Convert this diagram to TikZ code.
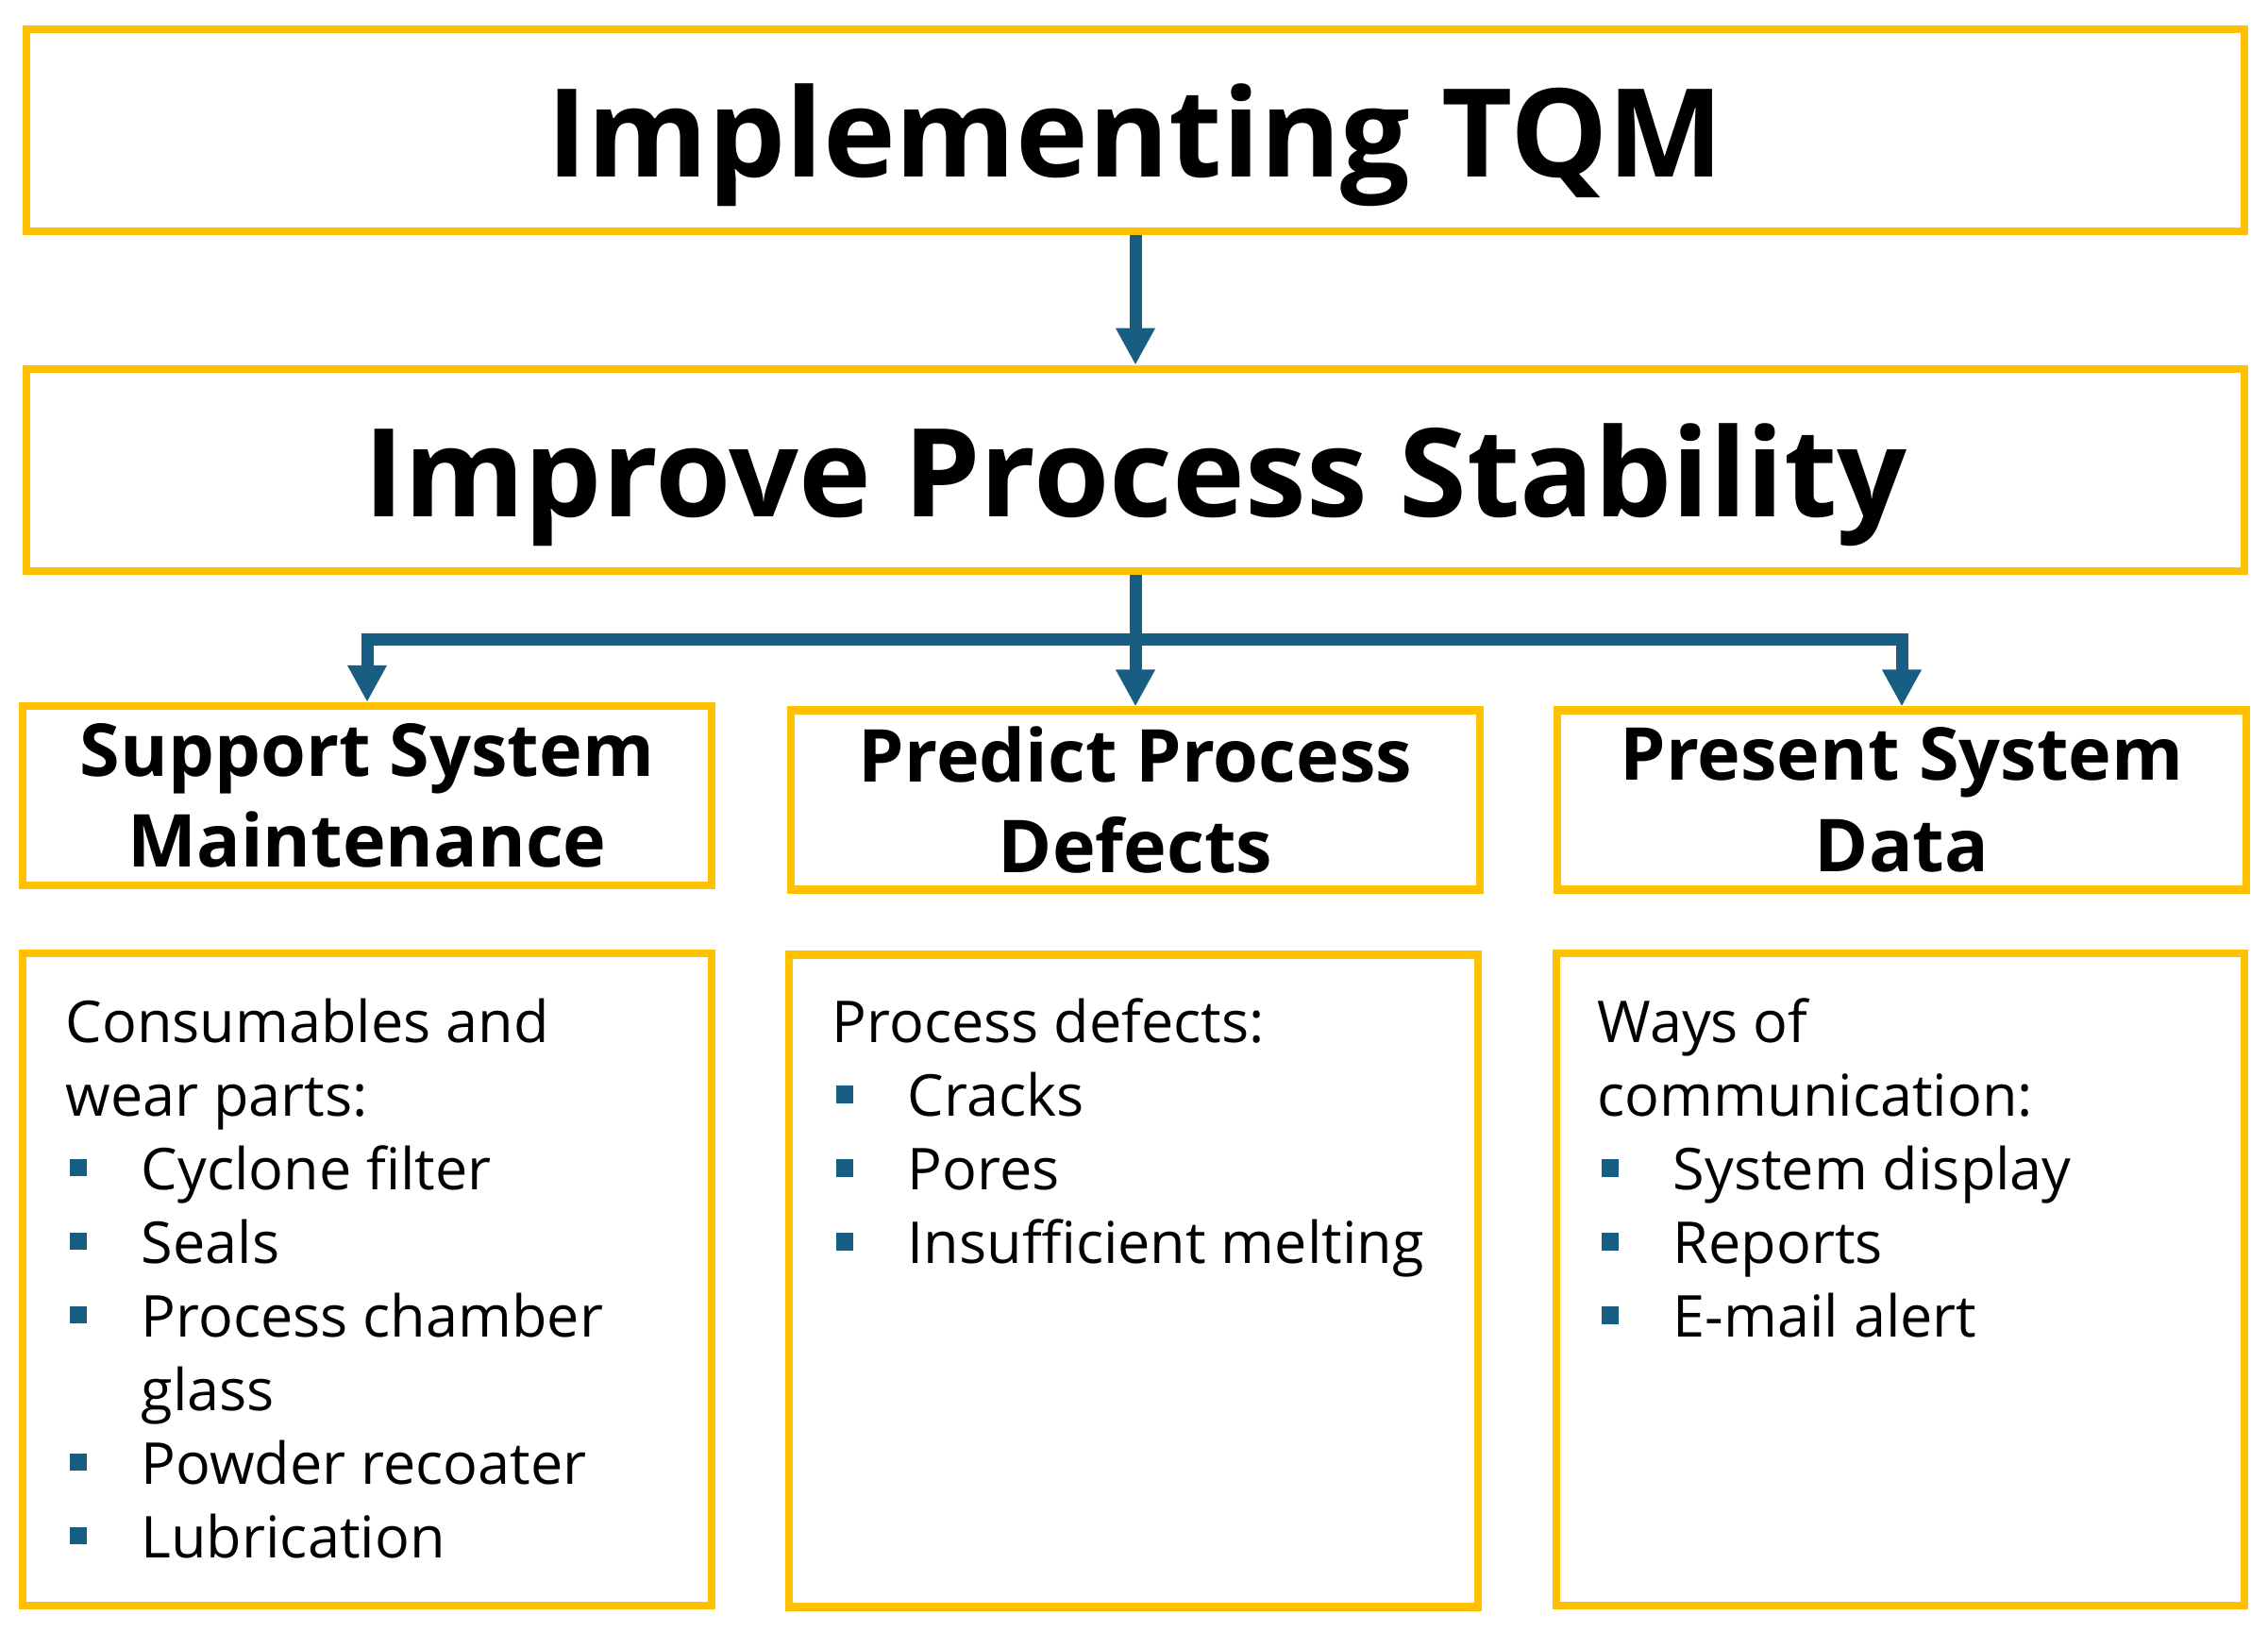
\documentclass[tikz,border=0pt]{standalone}
\usepackage{fontspec}
\setmainfont{Open Sans}
\usetikzlibrary{arrows.meta}
\definecolor{tqmgold}{RGB}{255,192,0}
\definecolor{tqmblue}{RGB}{24,94,130}
\newcommand\bul{\makebox[0.8cm][l]{\hspace{0.04cm}\textcolor{tqmblue}{\rule[1.4mm]{1.85mm}{1.85mm}}}}

\begin{document}
\begin{tikzpicture}[
    box/.style={draw=tqmgold, line width=2.3pt, inner sep=0pt, align=center},
    title/.style={box, minimum width=23.5cm, minimum height=2.146cm, text depth=0pt, font=\bfseries\fontsize{37}{44}\selectfont},
    head/.style={box, minimum width=7.295cm, minimum height=1.9cm, font=\bfseries\fontsize{22}{27.5}\selectfont},
    body/.style={box, minimum width=7.295cm, minimum height=6.91cm},
    items/.style={inner sep=0pt, anchor=north west, align=left, font=\fontsize{17.4}{22.2}\selectfont},
    link/.style={draw=tqmblue, line width=3.7pt},
    tip/.style={-{Triangle[width=3.9mm,length=3.9mm]}}
  ]
  \useasboundingbox (0,0) rectangle (24.03,-17.29);

  \node[title] (tqm)  at (12.03,-1.379) {Implementing TQM};
  \node[title] (stab) at (12.03,-4.98)  {Improve Process Stability};

  \node[head] (maint) at (3.89,-8.429)  {Support System\\Maintenance};
  \node[head] (defs)  at (12.03,-8.475) {Predict Process\\Defects};
  \node[head] (data)  at (20.15,-8.475) {Present System\\Data};

  \node[body] (maintbox) at (3.89,-13.555)  {};
  \node[body] (defsbox)  at (12.01,-13.57)  {};
  \node[body] (databox)  at (20.135,-13.555) {};

  \node[items] (maintlist) at (0.69,-10.57) {Consumables and\\wear parts:\\\bul Cyclone filter\\\bul Seals\\
    \bul Process chamber\\\hspace*{0.8cm}glass\\\bul Powder recoater\\\bul Lubrication};
  \node[items] (defslist) at (8.81,-10.57) {Process defects:\\\bul Cracks\\\bul Pores\\\bul Insufficient melting};
  \node[items] (datalist) at (16.92,-10.57) {Ways of\\communication:\\\bul System display\\\bul Reports\\\bul E-mail alert};

  \coordinate (fork) at (12.03,-6.77);
  \draw[link,tip] (tqm) -- (stab);
  \draw[link,tip] (fork) -| (maint.north);
  \draw[link,tip] (fork) -| (data.north);
  \draw[link,tip] (stab) -- (defs);
\end{tikzpicture}
\end{document}
